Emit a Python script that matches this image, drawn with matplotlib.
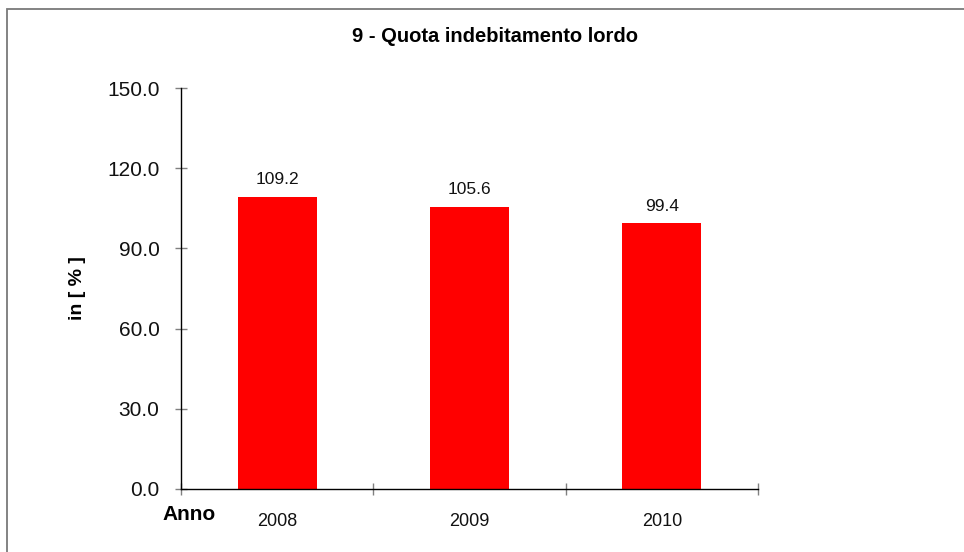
import matplotlib
matplotlib.use('agg')
from matplotlib import pyplot as plt
from matplotlib import patches as pltpatches
import numpy as np


plt.rcParams['font.family'] = ['Liberation Sans', 'DejaVu Sans']

years = ['2008', '2009', '2010']
quota = [109.2, 105.6, 99.4]
yticks = [0.0, 30.0, 60.0, 90.0, 120.0, 150.0]

W, H = 964, 552
fig = plt.figure(figsize=(W / 100, H / 100), dpi=100)
ax = fig.add_axes([181 / W, 1 - 489 / H, (758 - 181) / W, (489 - 88) / H])

x = np.arange(len(years))
bars = ax.bar(x, quota, width=0.41, color='#ff0000', edgecolor='none', zorder=2)

for xi, v in zip(x, quota):
    ax.annotate('%.1f' % v, (xi, v), xytext=(0, 7), textcoords='offset points',
                ha='center', va='bottom', fontsize=12.5, color='#111111')

ax.set_xlim(-0.5, len(years) - 0.5)
ax.set_ylim(0, 150)
ax.set_yticks(yticks)
ax.set_yticklabels(['%.1f' % t for t in yticks], fontsize=15, color='#111111')

# category boundaries carry the tick marks, labels sit at the centres
ax.set_xticks(np.arange(len(years) + 1) - 0.5)
ax.set_xticklabels([])
ax.set_xticks(x, minor=True)
ax.set_xticklabels(years, minor=True, fontsize=13, color='#111111')
ax.tick_params(axis='x', which='minor', length=0, pad=17)
ax.tick_params(axis='x', which='major', direction='inout', length=9, width=1, color='#808080')
ax.tick_params(axis='y', direction='inout', length=9, width=1, color='#808080', pad=11)

for side in ('top', 'right'):
    ax.spines[side].set_visible(False)
for side in ('left', 'bottom'):
    ax.spines[side].set_color('black')
    ax.spines[side].set_linewidth(1)

ax.set_ylabel('in [ % ]', fontsize=14, fontweight='bold')
ax.yaxis.set_label_coords(-95 / 577, 0.5)

fig.text(495 / W, 1 - 37 / H, '9 - Quota indebitamento lordo', ha='center', va='center',
         fontsize=14.5, fontweight='bold')
fig.text(189 / W, 1 - 515 / H, 'Anno', ha='center', va='center',
         fontsize=15, fontweight='bold')

# outer chart frame, cut off at the right and bottom edges
fig.patches.append(pltpatches.Rectangle((7 / W, -0.1), 2, 1 - 9 / H + 0.1,
                                        transform=fig.transFigure, fill=False,
                                        edgecolor='#7a7a7a', linewidth=1.3))

fig.savefig('out.png', dpi=100)
